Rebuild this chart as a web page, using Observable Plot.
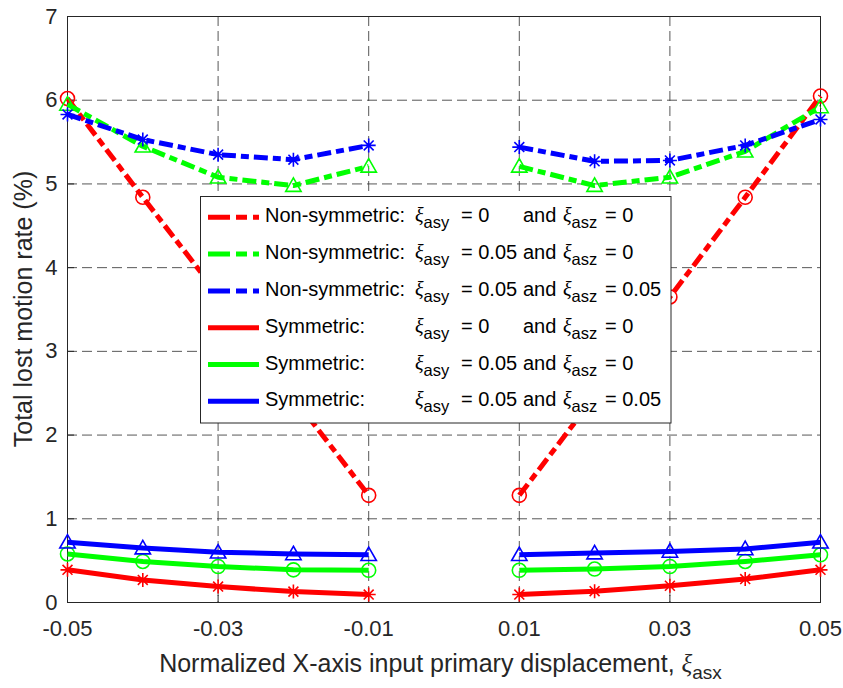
<!DOCTYPE html>
<html><head><meta charset="utf-8">
<script src="https://cdn.jsdelivr.net/npm/d3@7"></script>
<script src="https://cdn.jsdelivr.net/npm/@observablehq/plot@0.6"></script>
<style>body{margin:0;background:#fff;font-family:"Liberation Sans",Arial,sans-serif}</style>
</head><body><div id="chart"></div>
<script>
// ---- data ----
const xValues = [-0.05, -0.04, -0.03, -0.02, -0.01, 0.01, 0.02, 0.03, 0.04, 0.05];
const nsRed   = [6.02, 4.84, 3.68, 2.45, 1.28, 1.28, 2.46, 3.65, 4.84, 6.05];
const nsGreen = [5.95, 5.45, 5.08, 4.98, 5.21, 5.21, 4.98, 5.08, 5.39, 5.92];
const nsBlue  = [5.83, 5.53, 5.35, 5.29, 5.46, 5.44, 5.27, 5.28, 5.46, 5.77];
const sRed    = [0.39, 0.27, 0.19, 0.13, 0.095, 0.095, 0.135, 0.20, 0.28, 0.39];
const sGreen  = [0.58, 0.49, 0.43, 0.39, 0.385, 0.385, 0.40, 0.43, 0.49, 0.57];
const sBlue   = [0.72, 0.65, 0.60, 0.58, 0.57, 0.57, 0.59, 0.61, 0.64, 0.72];
const xTicks = [-0.05, -0.03, -0.01, 0.01, 0.03, 0.05];
const xGrid = [-0.03, -0.01, 0.01, 0.03];
const yTicks = [0, 1, 2, 3, 4, 5, 6, 7];
const yGrid = [1, 2, 3, 4, 5, 6];
const legendKinds = ["Non-symmetric:", "Non-symmetric:", "Non-symmetric:", "Symmetric:", "Symmetric:", "Symmetric:"];
const legendAsy = ["0", "0.05", "0.05", "0", "0.05", "0.05"];
const legendAsz = ["0", "0", "0.05", "0", "0", "0.05"];
const seriesColors = ["#ff0000", "#00ff00", "#0000ff", "#ff0000", "#00ff00", "#0000ff"];
const seriesValues = [nsRed, nsGreen, nsBlue, sRed, sGreen, sBlue];
const seriesDashed = [true, true, true, false, false, false];
const seriesMarkers = ["circle", "triangle", "asterisk", "asterisk", "circle", "triangle"];
const yLabel = "Total lost motion rate (%)";
const xLabel = "Normalized X-axis input primary displacement, ";

// ---- symbols (MATLAB-like) ----
const symbols = {
  circle: {draw(ctx, size) {const r = Math.sqrt(size / Math.PI); ctx.moveTo(r, 0); ctx.arc(0, 0, r, 0, 2 * Math.PI);}},
  triangle: {draw(ctx, size) {const r = Math.sqrt(size / Math.PI) * 1.1;
    ctx.moveTo(0, -r); ctx.lineTo(r, r * 0.75); ctx.lineTo(-r, r * 0.75); ctx.closePath();}},
  asterisk: {draw(ctx, size) {const r = Math.sqrt(size / Math.PI); const d = r * Math.SQRT1_2;
    ctx.moveTo(-r, 0); ctx.lineTo(r, 0); ctx.moveTo(0, -r); ctx.lineTo(0, r);
    ctx.moveTo(-d, -d); ctx.lineTo(d, d); ctx.moveTo(-d, d); ctx.lineTo(d, -d);}}
};

const W = 843, H = 688, mL = 67, mR = 23, mT = 16, mB = 86;
const dash = "14,5,8,5";

const seriesMarks = [];
seriesValues.forEach((vals, i) => {
  const rows = vals.map((v, j) => ({x: xValues[j], y: v, side: xValues[j] < 0 ? "L" : "R"}));
  seriesMarks.push(Plot.line(rows, {x: "x", y: "y", z: "side", stroke: seriesColors[i], strokeWidth: 5,
    strokeDasharray: seriesDashed[i] ? dash : null, strokeLinecap: "butt", strokeLinejoin: "round"}));
  seriesMarks.push(Plot.dot(rows, {x: "x", y: "y", symbol: symbols[seriesMarkers[i]], r: 7,
    stroke: seriesColors[i], fill: "none", strokeWidth: 1.6}));
});

const frameW = W - mL - mR, frameH = H - mT - mB;

const chart = Plot.plot({
  width: W, height: H,
  marginLeft: mL, marginRight: mR, marginTop: mT, marginBottom: mB,
  style: {fontFamily: "'Liberation Sans', Arial, sans-serif", fontSize: "22px", color: "#262626", background: "#fff"},
  x: {domain: [-0.05, 0.05]},
  y: {domain: [0, 7]},
  marks: [
    Plot.ruleX(xGrid, {stroke: "#3a3a3a", strokeWidth: 1, strokeDasharray: "10,5", strokeOpacity: 0.85}),
    Plot.ruleY(yGrid, {stroke: "#3a3a3a", strokeWidth: 1, strokeDasharray: "10,5", strokeOpacity: 0.85}),
    Plot.ruleX(xTicks, {stroke: "#262626", insetTop: frameH - 7}),
    Plot.ruleY(yTicks, {stroke: "#262626", insetRight: frameW - 7}),
    Plot.frame({stroke: "#262626", strokeWidth: 1}),
    ...seriesMarks,
    Plot.axisX({ticks: xTicks, tickFormat: d => d.toFixed(2), tickSize: 0, tickPadding: 18, label: null, fontSize: 22}),
    Plot.axisY({ticks: yTicks, tickFormat: d => String(d), tickSize: 0, tickPadding: 10, label: null, fontSize: 22})
  ]
});
document.getElementById("chart").appendChild(chart);

// ---- axis titles ----
const svg = d3.select(chart);
const sans = "'Liberation Sans', Arial, sans-serif";
const serif = "'Liberation Serif', 'DejaVu Serif', serif";
const xt = svg.append("text").attr("x", mL + frameW / 2 - 3).attr("y", 672).attr("text-anchor", "middle")
  .attr("font-family", sans).attr("font-size", 25).attr("fill", "#262626");
xt.append("tspan").text(xLabel);
xt.append("tspan").attr("font-family", serif).attr("font-style", "italic").text("ξ");
xt.append("tspan").attr("font-size", 19).attr("dy", 7).text("asx");

svg.append("text").attr("transform", `translate(32,${mT + frameH / 2}) rotate(-90)`).attr("text-anchor", "middle")
  .attr("font-family", sans).attr("font-size", 25).attr("fill", "#262626").text(yLabel);

// ---- legend ----
const lg = svg.append("g").attr("font-family", sans).attr("font-size", 20).attr("fill", "#000")
  .attr("text-anchor", "start");
lg.append("rect").attr("x", 200.5).attr("y", 196.5).attr("width", 470.5).attr("height", 226.5)
  .attr("fill", "#fff").attr("stroke", "#262626").attr("stroke-width", 1);
const rowY0 = 217.3, rowDy = 36.8;
legendKinds.forEach((kind, i) => {
  const cy = rowY0 + i * rowDy, base = cy + 5;
  lg.append("line").attr("x1", 208).attr("x2", 259).attr("y1", cy).attr("y2", cy)
    .attr("stroke", seriesColors[i]).attr("stroke-width", 5)
    .attr("stroke-dasharray", seriesDashed[i] ? "22,6,11,6" : null);
  lg.append("text").attr("x", 265).attr("y", base).attr("text-anchor", "start").text(kind);
  const t1 = lg.append("text").attr("x", 415).attr("y", base).attr("text-anchor", "start");
  t1.append("tspan").attr("font-family", serif).attr("font-style", "italic").text("ξ");
  t1.append("tspan").attr("dy", 6).attr("font-size", 16.5).text("asy");
  lg.append("text").attr("x", 461).attr("y", base).attr("text-anchor", "start").text("= " + legendAsy[i]);
  lg.append("text").attr("x", 523).attr("y", base).attr("text-anchor", "start").text("and");
  const t2 = lg.append("text").attr("x", 563).attr("y", base).attr("text-anchor", "start");
  t2.append("tspan").attr("font-family", serif).attr("font-style", "italic").text("ξ");
  t2.append("tspan").attr("dy", 6).attr("font-size", 16.5).text("asz");
  lg.append("text").attr("x", 605).attr("y", base).attr("text-anchor", "start").text("= " + legendAsz[i]);
});
</script>
</body></html>
